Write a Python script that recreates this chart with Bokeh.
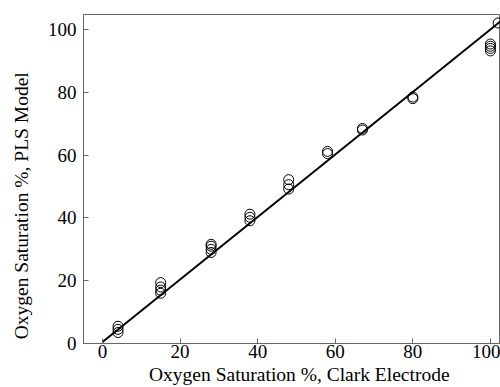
from bokeh.plotting import figure
from bokeh.models import Range1d, FixedTicker
from bokeh.embed import file_html
from bokeh.resources import INLINE

# Data
clark = [4, 4, 4, 15, 15, 15, 15, 28, 28, 28, 28, 38, 38, 38,
         48, 48, 48, 58, 58, 67, 67, 80, 80, 100, 100, 100, 100, 102]
pls = [3.5, 4.5, 5.5, 16, 17, 18, 19.4, 29, 30, 31, 31.6, 39.1, 40.2, 41.2,
       49.2, 50.6, 52.2, 60.5, 61.2, 68.0, 68.5, 78.0, 78.5, 93.2, 94.0, 94.7, 95.4, 102.1]
fit_x = [0, 106]
fit_y = [0.5, 106]
x_ticks = [0, 20, 40, 60, 80, 100]
y_ticks = [0, 20, 40, 60, 80, 100]
x_title = "Oxygen Saturation %, Clark Electrode"
y_title = "Oxygen Saturation %, PLS Model"

FONT = "Liberation Serif"
GRAY = "#666666"
NB = "\u00a0"

p = figure(width=500, height=387, output_backend="svg", toolbar_location=None,
           x_range=Range1d(-4.9, 102.6), y_range=Range1d(0, 104.8),
           min_border_left=83, min_border_right=0, min_border_top=14,
           min_border_bottom=44)

p.line(fit_x, fit_y, line_color="black", line_width=2)
p.scatter(clark, pls, size=10, marker="circle", fill_color=None,
          line_color="black", line_width=1)

p.grid.visible = False
p.outline_line_color = GRAY
p.outline_line_width = 1
p.background_fill_color = "white"
p.border_fill_color = "white"

for ax, ticks in ((p.xaxis[0], x_ticks), (p.yaxis[0], y_ticks)):
    ax.ticker = FixedTicker(ticks=ticks)
    ax.axis_line_color = GRAY
    ax.major_tick_line_color = GRAY
    ax.major_tick_in = 5
    ax.major_tick_out = 0
    ax.minor_tick_line_color = None
    ax.major_label_text_font = FONT
    ax.major_label_text_font_size = "19px"
    ax.major_label_text_color = "black"
    ax.axis_label_text_font = FONT
    ax.axis_label_text_font_size = "19.5px"
    ax.axis_label_text_font_style = "normal"
    ax.axis_label_text_color = "black"

p.xaxis[0].major_label_standoff = 1
p.yaxis[0].major_label_standoff = 7

# non-breaking spaces shift the centred titles along their axes
p.xaxis[0].axis_label = NB * 3 + x_title
p.xaxis[0].axis_label_standoff = 3
p.yaxis[0].axis_label = y_title + NB * 11
p.yaxis[0].axis_label_standoff = 13

open("out.html", "w").write(file_html(p, INLINE))
